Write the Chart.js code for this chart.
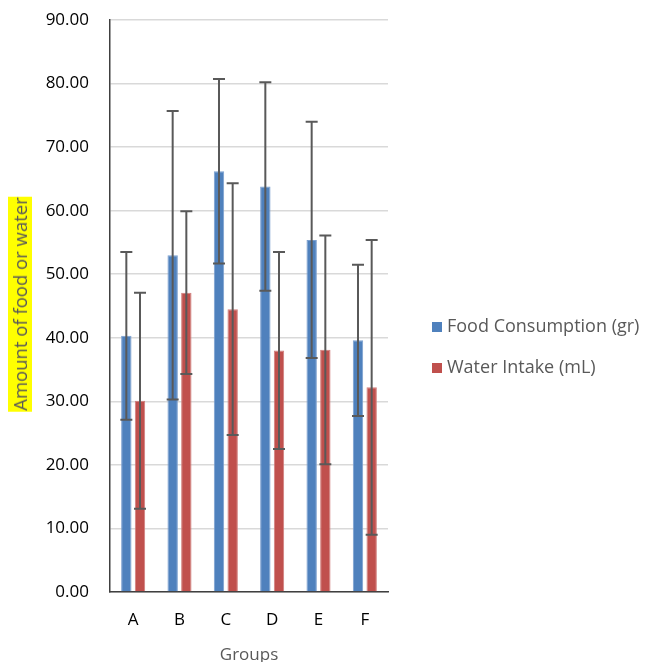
<!DOCTYPE html>
<html lang="en">
<head>
  <meta charset="UTF-8" />
  <title>Food and Water by Group</title>
  <script src="https://cdn.jsdelivr.net/npm/chart.js"></script>
  <style>
    body { margin: 0; background: #fff; font-family: "Open Sans", sans-serif; }
    #wrap { position: relative; width: 647px; height: 662px; }
    #yTitle {
      position: absolute; left: 20px; top: 304px;
      transform: translate(-50%, -50%) rotate(-90deg);
      white-space: nowrap; background: #ffff00; color: #595959;
      font-size: 18.5px; line-height: 24px; padding: 0 1px;
    }
    #xTitle {
      position: absolute; left: 249px; top: 653px; transform: translate(-50%, -50%);
      color: #595959; font-size: 17px;
    }
    .leg { position: absolute; left: 432px; color: #595959; font-size: 18px; white-space: nowrap; transform: translateY(-50%); }
    .leg i { display: inline-block; width: 10px; height: 10px; margin-right: 5px; }
  </style>
</head>
<body>
<div id="wrap">
  <canvas id="barChart" width="647" height="662"></canvas>
  <div id="yTitle">Amount of food or water</div>
  <div id="xTitle">Groups</div>
  <div class="leg" style="top:325px"><i style="background:#4F81BD"></i>Food Consumption (gr)</div>
  <div class="leg" style="top:366px"><i style="background:#C0504D"></i>Water Intake (mL)</div>
</div>

<script>
const groups = ["A", "B", "C", "D", "E", "F"];
const foodMean = [40.3, 53.0, 66.2, 63.8, 55.4, 39.6];
const foodErr  = [13.2, 22.7, 14.5, 16.4, 18.6, 11.9];
const waterMean = [30.1, 47.1, 44.5, 38.0, 38.1, 32.2];
const waterErr  = [17.0, 12.8, 19.8, 15.5, 18.0, 23.2];

// error bars drawn through the y scale
const errorBars = {
  id: "errorBars",
  afterDatasetsDraw(chart) {
    const ctx = chart.ctx;
    const y = chart.scales.y;
    chart.data.datasets.forEach((ds, i) => {
      const meta = chart.getDatasetMeta(i);
      meta.data.forEach((bar, j) => {
        const v = ds.data[j], e = ds.errors[j];
        const top = y.getPixelForValue(v + e);
        const bot = y.getPixelForValue(v - e);
        ctx.save();
        ctx.strokeStyle = "#595959";
        ctx.lineWidth = 2;
        ctx.beginPath();
        ctx.moveTo(bar.x, top); ctx.lineTo(bar.x, bot);
        ctx.moveTo(bar.x - 6, top); ctx.lineTo(bar.x + 6, top);
        ctx.moveTo(bar.x - 6, bot); ctx.lineTo(bar.x + 6, bot);
        ctx.stroke();
        ctx.restore();
      });
    });
  }
};

new Chart(document.getElementById("barChart").getContext("2d"), {
  type: "bar",
  data: {
    labels: groups,
    datasets: [
      { label: "Food Consumption (gr)", data: foodMean, errors: foodErr,
        backgroundColor: "#4F81BD", borderColor: "#7A9FCF", borderWidth: 1 },
      { label: "Water Intake (mL)", data: waterMean, errors: waterErr,
        backgroundColor: "#C0504D", borderColor: "#D17E7C", borderWidth: 1 }
    ]
  },
  options: {
    responsive: false,
    animation: false,
    devicePixelRatio: 1,
    layout: { padding: { left: 40, right: 259, top: 20, bottom: 0 } },
    datasets: { bar: { barPercentage: 0.76, categoryPercentage: 0.59 } },
    plugins: { legend: { display: false }, tooltip: { enabled: false } },
    scales: {
      x: {
        grid: { display: false, drawTicks: false },
        border: { display: true, color: "#404040", width: 1.5 },
        ticks: { color: "#000", padding: 18, font: { family: "Open Sans", size: 17 } },
        afterFit: s => { s.height = 70; }
      },
      y: {
        min: 0, max: 90,
        grid: { color: "#d9d9d9", lineWidth: 1.5, drawTicks: false },
        border: { display: true, color: "#404040", width: 1.5 },
        ticks: { stepSize: 10, color: "#000", padding: 21,
          font: { family: "Open Sans", size: 17 },
          callback: v => v.toFixed(2) },
        afterFit: s => { s.width = 70; s.paddingTop = 0; s.paddingBottom = 0; }
      }
    }
  },
  plugins: [errorBars]
});
</script>
</body>
</html>
